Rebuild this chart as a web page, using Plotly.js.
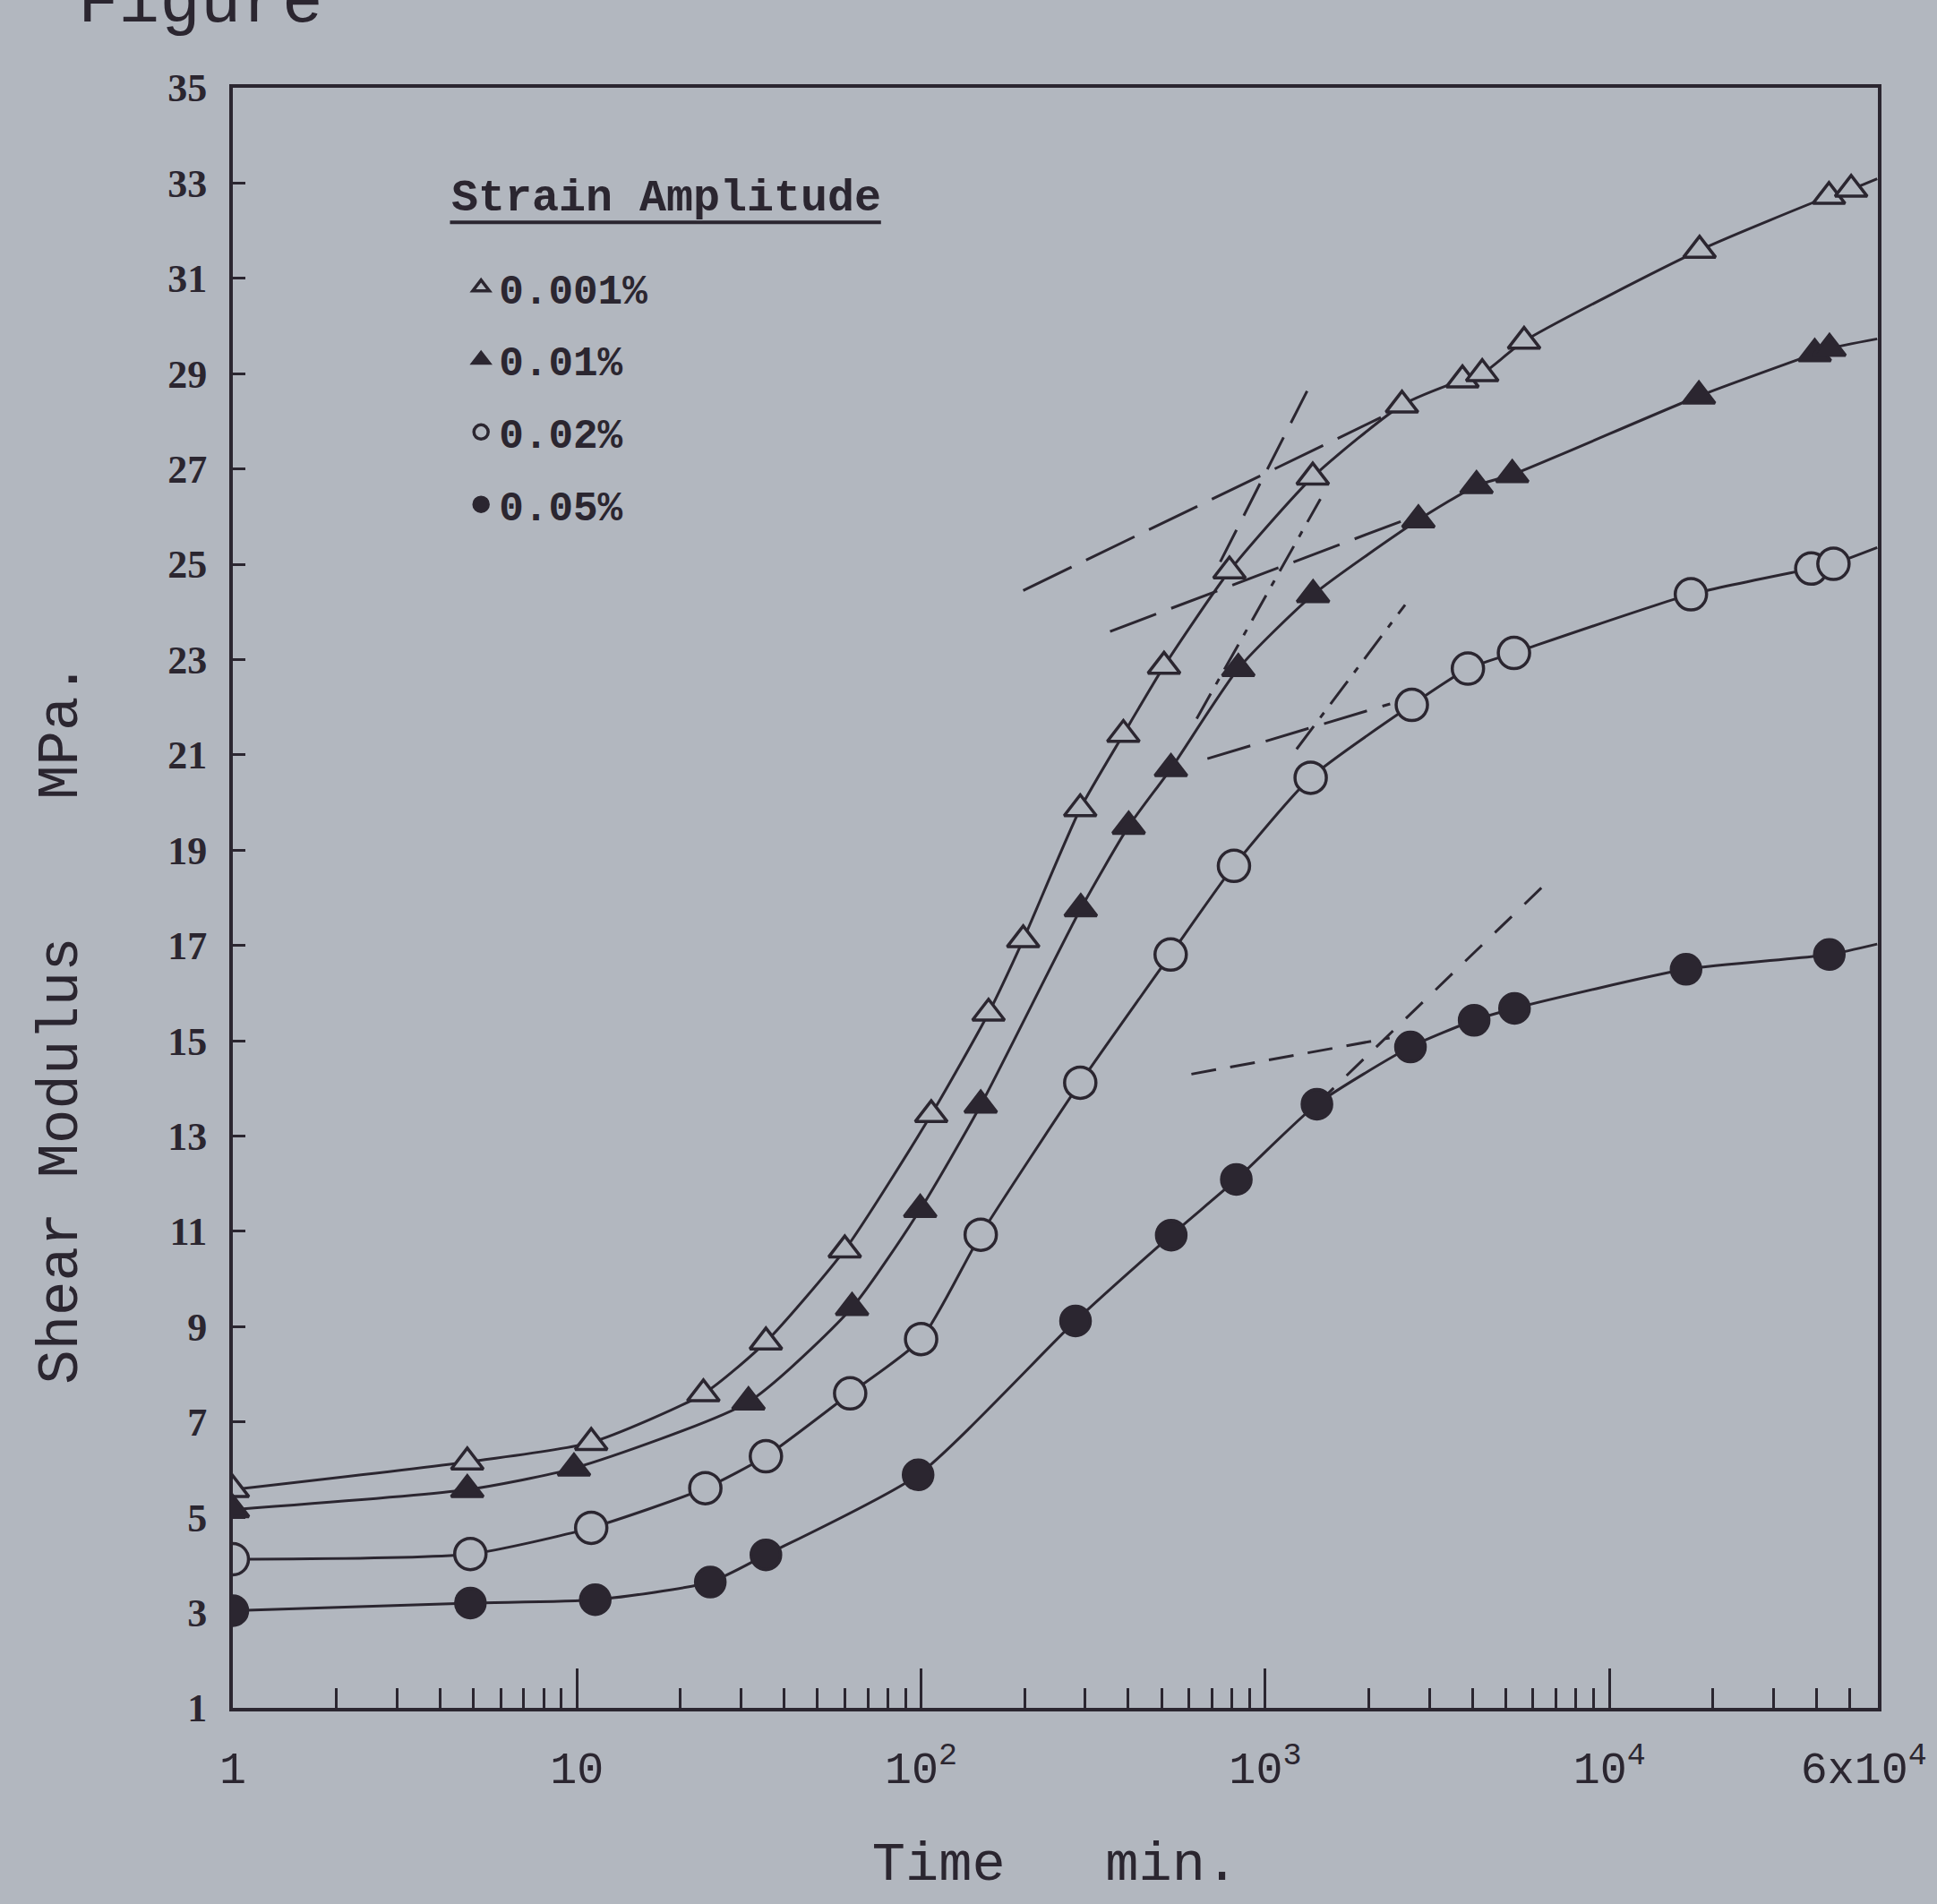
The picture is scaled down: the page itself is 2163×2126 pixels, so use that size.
<!DOCTYPE html>
<html>
<head>
<meta charset="utf-8">
<script src="https://cdn.plot.ly/plotly-3.0.1.min.js"></script>
<style>html,body{margin:0;padding:0;background:#b2b7bf;}</style>
</head>
<body>
<div id="chart" style="width:2163px;height:2126px;"></div>
<script>
// ---- data ----
const seriesNames = ['0.001%', '0.01%', '0.02%', '0.05%'];

const timeA = [1, 4.8, 11, 23.3, 35.4, 60, 107, 157, 198, 290, 387, 508, 787, 1374, 2496, 3741, 4270, 5650, 18280, 43450, 50400];
const modA  = [5.58, 6.16, 6.57, 7.59, 8.68, 10.61, 13.45, 15.58, 17.12, 19.87, 21.43, 22.86, 24.86, 26.83, 28.34, 28.87, 29.0, 29.68, 31.59, 32.72, 32.87];

const timeB = [1, 4.8, 9.8, 31.5, 63, 99.4, 149, 291, 401, 532, 835, 1377, 2786, 4110, 5220, 18200, 39500, 43600];
const modB  = [5.16, 5.58, 6.03, 7.42, 9.40, 11.46, 13.65, 17.77, 19.50, 20.71, 22.81, 24.36, 25.93, 26.65, 26.88, 28.53, 29.42, 29.53];

const timeC = [1, 4.9, 11, 23.6, 35.4, 62.2, 100, 149, 290, 531, 811, 1355, 2666, 3880, 5280, 17250, 38600, 44770];
const modC  = [4.12, 4.23, 4.78, 5.61, 6.28, 7.60, 8.74, 10.93, 14.12, 16.81, 18.67, 20.52, 22.05, 22.81, 23.14, 24.37, 24.91, 25.01];

const timeD = [1, 4.9, 11.3, 24.4, 35.4, 98, 281, 533, 824, 1413, 2642, 4045, 5300, 16700, 43550];
const modD  = [3.04, 3.20, 3.27, 3.64, 4.21, 5.89, 9.12, 10.92, 12.09, 13.67, 14.87, 15.43, 15.68, 16.50, 16.81];

// where each fitted curve meets the right frame
const curveEndTime = 60000;
const curveEndMod = [33.09, 29.73, 25.35, 17.03];

// hand-drawn tangent (asymptote) lines
const tanAupperT = [198, 2168],  tanAupperM = [24.45, 28.08];
const tanAsteepT = [740, 1361],  tanAsteepM = [25.05, 28.81];
const tanBupperT = [354, 2500],  tanBupperM = [23.59, 25.91];
const tanBsteepT = [632, 1446],  tanBsteepM = [21.76, 26.37];
const tanCupperT = [679, 2306],  tanCupperM = [20.92, 22.07];
const tanCsteepT = [1233, 2549], tanCsteepM = [21.12, 24.15];
const tanDupperT = [610, 2298],  tanDupperM = [14.30, 15.06];
const tanDsteepT = [1413, 6430], tanDsteepM = [13.67, 18.25];

// axis ticks
const xTickVals = [1, 10, 100, 1000, 10000, 60000];
const xTickText = ['1', '10', '10<sup>2</sup>', '10<sup>3</sup>', '10<sup>4</sup>', '6x10<sup>4</sup>\u00A0'];
const yTickVals = [1, 3, 5, 7, 9, 11, 13, 15, 17, 19, 21, 23, 25, 27, 29, 31, 33, 35];

// ---- styles ----
const ink = '#2b2630';
const bg = '#b2b7bf';

const minorVals = [];
for (let d = 1; d <= 10000; d *= 10) {
  for (let k = 2; k <= 9; k++) {
    if (d * k < 60000) minorVals.push(d * k);
  }
}

const times = [timeA, timeB, timeC, timeD];
const mods = [modA, modB, modC, modD];
const symbols = ['triangle-up', 'triangle-up', 'circle', 'circle'];
const fills = [bg, ink, bg, ink];
const sizes = [31, 31, 35, 33];

const traces = [];
// fitted curves
for (let i = 0; i < 4; i++) {
  traces.push({
    x: times[i].concat([curveEndTime]),
    y: mods[i].concat([curveEndMod[i]]),
    mode: 'lines', type: 'scatter', showlegend: false, hoverinfo: 'skip',
    line: {color: ink, width: 3, shape: 'spline', smoothing: 0.6}
  });
}
// tangents
const tangents = [
  [tanAupperT, tanAupperM, '60px,18px'],
  [tanAsteepT, tanAsteepM, '40px,18px'],
  [tanBupperT, tanBupperM, '55px,18px'],
  [tanBsteepT, tanBsteepM, '32px,12px,7px,12px'],
  [tanCupperT, tanCupperM, '50px,18px'],
  [tanCsteepT, tanCsteepM, '32px,12px,7px,12px'],
  [tanDupperT, tanDupperM, '28px,16px'],
  [tanDsteepT, tanDsteepM, '26px,20px']
];
tangents.forEach(t => traces.push({
  x: t[0], y: t[1], mode: 'lines', type: 'scatter', showlegend: false, hoverinfo: 'skip',
  line: {color: ink, width: 3, dash: t[2]}
}));
// markers
for (let i = 0; i < 4; i++) {
  traces.push({
    x: times[i], y: mods[i], mode: 'markers', type: 'scatter',
    name: seriesNames[i], legendgroup: 'g' + i,
    marker: {symbol: symbols[i], size: sizes[i], color: fills[i], line: {color: ink, width: 3.5}}
  });
}

const layout = {
  width: 2163, height: 2126,
  paper_bgcolor: bg, plot_bgcolor: bg,
  margin: {l: 260, r: 66, t: 98, b: 219},
  showlegend: true,
  legend: {
    x: 0.140, y: 0.897, xanchor: 'left', yanchor: 'top',
    bgcolor: 'rgba(0,0,0,0)', borderwidth: 0,
    font: {family: 'Liberation Mono', size: 46, color: ink, weight: 'bold'},
    traceorder: 'grouped', tracegroupgap: 18, itemwidth: 30, itemsizing: 'trace'
  },
  xaxis: {
    type: 'log', range: [0, Math.log10(60000) + 0.002],
    tickmode: 'array', tickvals: xTickVals, ticktext: xTickText,
    ticks: 'inside', ticklen: 44, tickwidth: 3, tickcolor: ink,
    minor: {tickmode: 'array', tickvals: minorVals, ticks: 'inside', ticklen: 22, tickwidth: 3, tickcolor: ink, showgrid: false},
    showline: true, mirror: true, linecolor: ink, linewidth: 4,
    showgrid: false, zeroline: false,
    tickfont: {family: 'Liberation Mono', size: 50, color: ink},
    ticklabelstandoff: 20, ticklabeloverflow: 'allow',
    title: {text: 'Time\u00A0\u00A0 min.', font: {family: 'Liberation Mono', size: 62, color: ink}, standoff: 52}
  },
  yaxis: {
    range: [1, 35],
    tickmode: 'array', tickvals: yTickVals,
    ticks: 'inside', ticklen: 14, tickwidth: 3, tickcolor: ink,
    showline: true, mirror: true, linecolor: ink, linewidth: 4,
    showgrid: false, zeroline: false,
    tickfont: {family: 'Liberation Serif', size: 44, color: ink, weight: 'bold'},
    ticklabelstandoff: 16
  },
  annotations: [
    {text: 'Shear Modulus\u00A0\u00A0\u00A0 MPa.', textangle: -90, xref: 'paper', yref: 'paper',
     x: -0.104, y: 0.423, xanchor: 'center', yanchor: 'middle', showarrow: false,
     font: {family: 'Liberation Mono', size: 64, color: ink}},
    {text: 'Strain Amplitude', xref: 'paper', yref: 'paper', x: 0.132, y: 0.932,
     xanchor: 'left', yanchor: 'middle', showarrow: false,
     font: {family: 'Liberation Mono', size: 50, color: ink, weight: 'bold'}},
    {text: 'Figure', xref: 'paper', yref: 'paper', x: -0.095, y: 1.027,
     xanchor: 'left', yanchor: 'bottom', showarrow: false,
     font: {family: 'Liberation Mono', size: 76, color: ink}}
  ],
  shapes: [
    {type: 'line', xref: 'paper', yref: 'paper', x0: 0.132, x1: 0.394, y0: 0.917, y1: 0.917,
     line: {color: ink, width: 4}}
  ]
};

Plotly.newPlot('chart', traces, layout, {displayModeBar: false, staticPlot: true});
</script>
</body>
</html>
